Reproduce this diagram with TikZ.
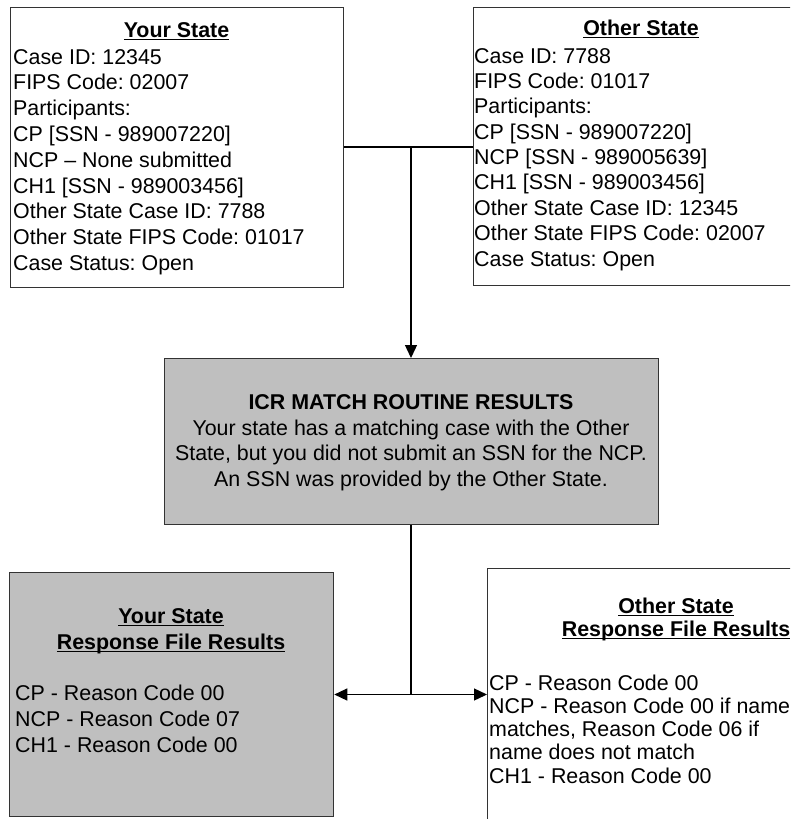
\documentclass[tikz,border=0pt]{standalone}
\usepackage{fontspec}
\setmainfont{Liberation Sans}
\usetikzlibrary{arrows.meta}
\frenchspacing
% underlined heading with a rule of fixed depth and weight
\newcommand\headline[1]{\setbox0\hbox{#1}\rlap{\rule[-3pt]{\wd0}{1.5pt}}\box0}
\newcommand\leftlines[1]{\begin{tabular}[t]{@{}l@{}}#1\end{tabular}}
\newcommand\midlines[1]{\begin{tabular}[t]{@{}c@{}}#1\end{tabular}}
\begin{document}
\begin{tikzpicture}[x=1pt,y=-1pt,
  panel/.style={draw=black!80, line width=1.3pt, inner sep=0pt, anchor=north west},
  shaded/.style={panel, fill=black!25},
  body/.style={inner sep=0pt, font=\fontsize{21.4}{25.8}\selectfont},
  tight/.style={inner sep=0pt, font=\fontsize{21.4}{23.3}\selectfont},
  link/.style={draw=black, line width=1.3pt},
  tip/.style={-{Triangle[length=13pt,width=12pt]}}]
\useasboundingbox (0,0) rectangle (790,819);
\clip (0,0) rectangle (790,819);
\fill[white] (0,0) rectangle (790,819);

% boxes
\node[panel, minimum width=333pt, minimum height=280pt] (ys) at (10,7) {};
\node[panel, minimum width=360pt, minimum height=278pt] (os) at (473,7) {};
\node[shaded, minimum width=494pt, minimum height=166pt] (icr) at (164,358) {};
\node[shaded, minimum width=324pt, minimum height=244pt] (yr) at (9,572) {};
\node[panel, minimum width=360pt, minimum height=300pt] (or) at (487,568) {};

% Your State
\node[body, anchor=base] (ystitle) at (176.5,37) {\headline{\textbf{Your State}}};
\node[body, anchor=base west] (ysbody) at (13,64) {\leftlines{Case ID: 12345\\FIPS Code: 02007\\Participants:\\CP [SSN - 989007220]\\NCP – None submitted\\CH1 [SSN - 989003456]\\Other State Case ID: 7788\\Other State FIPS Code: 01017\\Case Status: Open}};

% Other State
\node[body, anchor=base] (ostitle) at (641,35) {\headline{\textbf{Other State}}};
\node[inner sep=0pt, font=\fontsize{21.4}{25.4}\selectfont, anchor=base west] (osbody) at (474,63) {\leftlines{Case ID: 7788\\FIPS Code: 01017\\Participants:\\CP [SSN - 989007220]\\NCP [SSN - 989005639]\\CH1 [SSN - 989003456]\\Other State Case ID: 12345\\Other State FIPS Code: 02007\\Case Status: Open}};

% match routine
\node[body, anchor=base] (icrtitle) at (411,409) {\textbf{ICR MATCH ROUTINE RESULTS}};
\node[inner sep=0pt, font=\fontsize{21.4}{25.6}\selectfont, anchor=base] (icrbody) at (411,435) {\midlines{Your state has a matching case with the Other\\State, but you did not submit an SSN for the NCP.\\An SSN was provided by the Other State.}};

% Your State response
\node[inner sep=0pt, font=\fontsize{21.4}{26}\selectfont, anchor=base] (yrtitle) at (171,623) {\midlines{\headline{\textbf{Your State}}\\\headline{\textbf{Response File Results}}}};
\node[inner sep=0pt, font=\fontsize{21.4}{26}\selectfont, anchor=base west] (yrbody) at (15,700) {\leftlines{CP - Reason Code 00\\NCP - Reason Code 07\\CH1 - Reason Code 00}};

% Other State response
\node[tight, anchor=base] (ortitle) at (676,613) {\midlines{\headline{\textbf{Other State}}\\\headline{\textbf{Response File Results}}}};
\node[tight, anchor=base west] (orbody) at (489,690) {\leftlines{CP - Reason Code 00\\NCP - Reason Code 00 if name\\matches, Reason Code 06 if\\name does not match\\CH1 - Reason Code 00}};

% connectors
\coordinate (join) at (411,147);
\coordinate (split) at (411,694.5);
\draw[link] (ys.east |- join) -- (join);
\draw[link] (os.west |- join) -- (join);
\draw[link, tip] (join) -- (join |- icr.north);
\draw[link] (split |- icr.south) -- (split);
\draw[link, tip] (split) -- (split -| yr.east);
\draw[link, tip] (split) -- (split -| or.west);
\end{tikzpicture}
\end{document}
